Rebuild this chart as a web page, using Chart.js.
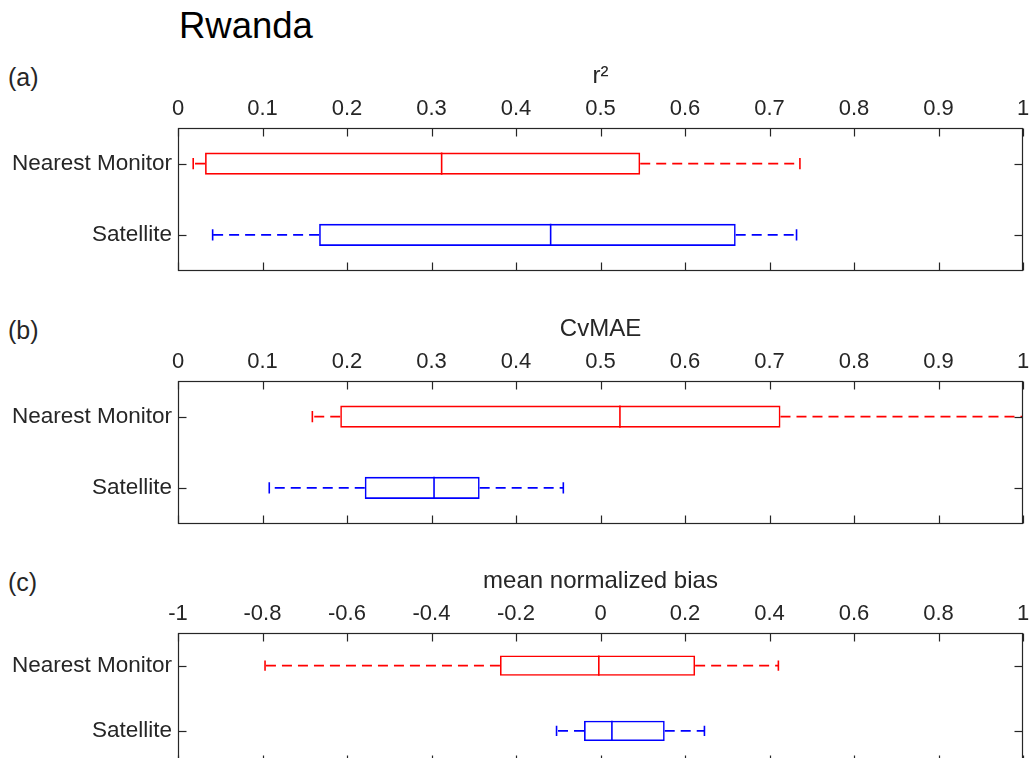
<!DOCTYPE html>
<html>
<head>
<meta charset="utf-8">
<script src="https://cdn.jsdelivr.net/npm/chart.js@4.4.1/dist/chart.umd.min.js"></script>
<style>
  html, body { margin: 0; padding: 0; background: #fff; overflow: hidden; }
  body { width: 1029px; height: 758px; position: relative; font-family: "Liberation Sans", Arial, sans-serif; color: #262626; }
  .panel { position: absolute; left: 0; }
  .label { position: absolute; left: 8px; font-size: 25px; line-height: 1; }
  #title { position: absolute; left: 179px; top: 8px; font-size: 36.5px; line-height: 1; color: #000; }
</style>
</head>
<body>
<div id="title">Rwanda</div>
<div class="label" style="top:65px">(a)</div>
<div class="label" style="top:318px">(b)</div>
<div class="label" style="top:570px">(c)</div>
<canvas class="panel" id="r2Chart" width="1029" height="230" style="top:60px"></canvas>
<canvas class="panel" id="cvmaeChart" width="1029" height="230" style="top:313px"></canvas>
<canvas class="panel" id="biasChart" width="1029" height="218" style="top:565px"></canvas>
<script>
const categories = ["Nearest Monitor", "Satellite"];
const boxColors = ["#ff0000", "#0000ff"];

const unitTicks = [0, 0.1, 0.2, 0.3, 0.4, 0.5, 0.6, 0.7, 0.8, 0.9, 1];
const biasTicks = [-1, -0.8, -0.6, -0.4, -0.2, 0, 0.2, 0.4, 0.6, 0.8, 1];

const r2Low = [0.018, 0.041];
const r2Q1 = [0.032, 0.167];
const r2Median = [0.312, 0.441];
const r2Q3 = [0.547, 0.660];
const r2High = [0.736, 0.732];

const cvmaeLow = [0.159, 0.108];
const cvmaeQ1 = [0.192, 0.221];
const cvmaeMedian = [0.523, 0.303];
const cvmaeQ3 = [0.713, 0.357];
const cvmaeHigh = [1.0, 0.456];

const biasLow = [-0.794, -0.104];
const biasQ1 = [-0.238, -0.039];
const biasMedian = [-0.004, 0.027];
const biasQ3 = [0.224, 0.152];
const biasHigh = [0.421, 0.246];

const axisColor = "#262626";
const fontFamily = '"Liberation Sans", Arial, sans-serif';
const markWidth = 1.6;

function strokeLine(ctx, x1, y1, x2, y2) {
  ctx.beginPath();
  ctx.moveTo(x1, y1);
  ctx.lineTo(x2, y2);
  ctx.stroke();
}

// median, dashed whiskers and caps, placed with the chart's own scales
const boxWhiskers = {
  id: "boxWhiskers",
  afterDatasetsDraw(chart, args, opts) {
    const { ctx, chartArea: area } = chart;
    const xScale = chart.scales.x;
    const bars = chart.getDatasetMeta(0).data;
    ctx.save();
    ctx.beginPath();
    ctx.rect(area.left, area.top, area.right - area.left, area.bottom - area.top);
    ctx.clip();
    ctx.lineWidth = markWidth;
    bars.forEach((bar, i) => {
      const yc = bar.y;
      const half = bar.height / 2;
      const px = (v) => xScale.getPixelForValue(v);
      const low = px(opts.low[i]);
      const q1 = px(opts.q1[i]);
      const med = px(opts.median[i]);
      const q3 = px(opts.q3[i]);
      const high = px(opts.high[i]);
      ctx.strokeStyle = boxColors[i];
      ctx.setLineDash([]);
      strokeLine(ctx, med, yc - half, med, yc + half);
      ctx.setLineDash([10, 6]);
      strokeLine(ctx, q3, yc, high, yc);
      strokeLine(ctx, q1, yc, low, yc);
      ctx.setLineDash([]);
      strokeLine(ctx, low, yc - half / 2, low, yc + half / 2);
      strokeLine(ctx, high, yc - half / 2, high, yc + half / 2);
    });
    ctx.restore();
  },
};

// MATLAB-like box with inward ticks
const axesFrame = {
  id: "axesFrame",
  afterDraw(chart) {
    const { ctx, chartArea: a, scales } = chart;
    const L = Math.round(a.left) + 0.5;
    const R = Math.round(a.right) - 0.5;
    const T = Math.round(a.top) + 0.5;
    const B = Math.round(a.bottom) - 0.5;
    ctx.save();
    ctx.strokeStyle = axisColor;
    ctx.lineWidth = 1.2;
    ctx.strokeRect(L, T, R - L, B - T);
    scales.x.ticks.forEach((t) => {
      const x = Math.round(scales.x.getPixelForValue(t.value)) + 0.5;
      strokeLine(ctx, x, T, x, T + 8);
      strokeLine(ctx, x, B, x, B - 8);
    });
    scales.y.ticks.forEach((t, i) => {
      const y = Math.round(scales.y.getPixelForTick(i)) + 0.5;
      strokeLine(ctx, L, y, L + 8, y);
      strokeLine(ctx, R, y, R - 8, y);
    });
    ctx.restore();
  },
};

function makeBoxChart(id, title, ticks, low, q1, median, q3, high) {
  const ctx = document.querySelector(id);
  return new Chart(ctx, {
    type: "bar",
    data: {
      labels: categories,
      datasets: [
        {
          data: categories.map((c, i) => [q1[i], q3[i]]),
          backgroundColor: "rgba(0,0,0,0)",
          borderColor: boxColors,
          borderWidth: markWidth,
          borderSkipped: false,
          barPercentage: 0.31,
          categoryPercentage: 1,
        },
      ],
    },
    options: {
      indexAxis: "y",
      responsive: false,
      animation: false,
      layout: { padding: { top: 0, right: 6, bottom: 0, left: 0 } },
      plugins: {
        legend: { display: false },
        tooltip: { enabled: false },
        boxWhiskers: { low, q1, median, q3, high },
      },
      scales: {
        x: {
          type: "linear",
          position: "top",
          min: ticks[0],
          max: ticks[ticks.length - 1],
          afterBuildTicks: (s) => { s.ticks = ticks.map((v) => ({ value: v })); },
          afterFit: (s) => {
            s.height = 68;
            s.paddingLeft = 0;
            s.paddingRight = 0;
          },
          grid: { display: false, drawTicks: false },
          border: { display: false },
          ticks: {
            color: axisColor,
            padding: 6,
            maxRotation: 0,
            autoSkip: false,
            font: { family: fontFamily, size: 22 },
            callback: (v) => String(Number(v.toFixed(2))),
          },
          title: {
            display: true,
            text: title,
            color: axisColor,
            padding: { top: 2, bottom: 0 },
            font: { family: fontFamily, size: 24 },
          },
        },
        y: {
          type: "category",
          offset: true,
          afterFit: (s) => { s.width = 178; },
          grid: { display: false, drawTicks: false },
          border: { display: false },
          ticks: { color: axisColor, padding: 6, font: { family: fontFamily, size: 22.5 } },
        },
      },
    },
    plugins: [boxWhiskers, axesFrame],
  });
}

makeBoxChart("#r2Chart", "r²", unitTicks, r2Low, r2Q1, r2Median, r2Q3, r2High);
makeBoxChart("#cvmaeChart", "CvMAE", unitTicks, cvmaeLow, cvmaeQ1, cvmaeMedian, cvmaeQ3, cvmaeHigh);
makeBoxChart("#biasChart", "mean normalized bias", biasTicks, biasLow, biasQ1, biasMedian, biasQ3, biasHigh);
</script>
</body>
</html>
